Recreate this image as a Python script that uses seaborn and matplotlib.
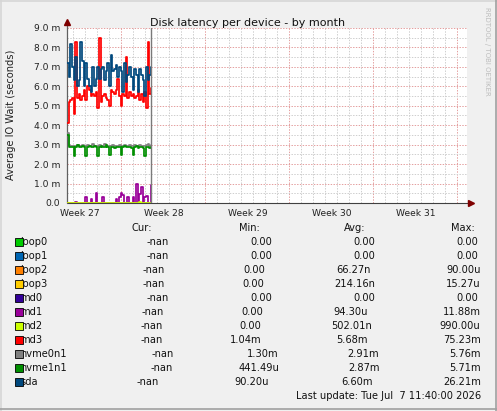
import numpy as np
import pandas as pd
import matplotlib
matplotlib.use("Agg")
import matplotlib.pyplot as plt
from matplotlib.patches import Rectangle
import seaborn as sns

W, H = 497, 411

# --- data ---
DEVICES = ["loop0", "loop1", "loop2", "loop3", "md0", "md1", "md2", "md3",
           "nvme0n1", "nvme1n1", "sda"]
COLORS = ["#00CC00", "#0066B3", "#FF8000", "#FFCC00", "#330099", "#990099",
          "#CCFF00", "#FF0000", "#808080", "#008F00", "#00487D"]

STEP_DAYS = 0.14  # spacing of the samples (days)
N_POINTS = 51

loop_zero = [0.0] * N_POINTS   # loop0..3, md0: flat at zero

md1 = [0, 0, 0, 0, 0, 0.05, 0, 0, 0, 0, 0, 0.3, 0, 0, 0.2, 0, 0, 0.5, 0, 0,
       0, 0.3, 0, 0, 0, 0, 0, 0, 0, 0.2, 0, 0.3, 0.5, 0.4, 0, 0, 0.3, 0, 0, 0.3,
       0, 1.0, 0, 0.45, 0.8, 0, 0.3, 0.35, 0, 0, 0.95]
md2 = [0, 0, 0, 0, 0, 0, 0, 0, 0, 0, 0, 0, 0, 0, 0, 0, 0, 0, 0, 0,
       0, 0, 0, 0, 0, 0, 0, 0, 0, 0, 0, 0, 0, 0, 0, 0, 0, 0, 0, 0,
       0, 0, 0, 0.05, 0, 0, 0, 0, 0, 0, 0]
md3 = [4.1, 5.2, 5.3, 5.4, 4.6, 8.3, 5.4, 5.6, 5.3, 5.5, 5.8, 5.3, 6.0, 5.8,
       5.5, 5.6, 5.5, 5.7, 4.9, 8.5, 5.2, 5.5, 5.6, 5.4, 5.3, 5.0, 5.8, 5.7,
       5.6, 5.8, 6.4, 5.5, 5.0, 5.6, 5.5, 7.5, 5.4, 5.7, 5.5, 5.6, 5.4, 5.5,
       5.8, 5.3, 5.6, 5.2, 5.7, 4.9, 8.3, 5.6, 5.9]
nvme0n1 = [3.6, 3.0, 2.95, 2.95, 2.95, 2.95, 3.0, 2.95, 2.95, 3.0,
           2.95, 2.95, 3.0, 2.95, 2.95, 3.05, 2.95, 2.95, 2.95, 3.0,
           2.95, 2.95, 3.05, 3.0, 2.95, 2.95, 2.95, 3.0, 2.95, 2.95,
           2.95, 3.0, 2.95, 2.95, 3.0, 2.95, 2.95, 3.0, 2.95, 2.95,
           3.0, 2.95, 2.95, 3.0, 2.95, 2.95, 2.95, 3.0, 3.05, 2.95, 3.0]
nvme1n1 = [3.5, 2.9, 2.9, 2.9, 2.4, 2.9, 3.0, 2.9, 2.9, 2.95, 2.9, 2.4, 2.9,
           2.95, 2.9, 2.9, 2.95, 2.9, 2.4, 2.9, 2.95, 2.9, 2.9, 3.0, 2.9, 2.45,
           2.9, 2.9, 2.85, 2.9, 2.9, 2.9, 2.45, 2.9, 2.95, 2.9, 2.9, 2.9, 2.85,
           2.45, 2.9, 2.95, 2.85, 2.9, 2.9, 2.85, 2.4, 2.9, 2.9, 2.85, 2.9]
sda = [7.2, 6.5, 8.2, 7.0, 6.3, 7.5, 6.0, 6.3, 8.3, 7.3, 6.0, 7.2, 6.4, 6.0,
       5.7, 7.0, 6.0, 6.4, 7.0, 6.4, 6.9, 7.0, 6.3, 6.8, 7.2, 6.0, 7.6, 6.8,
       6.9, 7.1, 6.5, 7.0, 6.8, 5.7, 7.2, 6.2, 6.6, 7.0, 6.5, 5.8, 6.9, 6.6,
       5.7, 6.9, 6.6, 6.3, 5.5, 7.0, 6.3, 6.6, 7.0]

SERIES = [loop_zero, loop_zero, loop_zero, loop_zero, loop_zero,
          md1, md2, md3, nvme0n1, nvme1n1, sda]

LEG_CUR = ["-nan"] * 11
LEG_MIN = ["0.00", "0.00", "0.00", "0.00", "0.00", "0.00", "0.00", "1.04m",
           "1.30m", "441.49u", "90.20u"]
LEG_AVG = ["0.00", "0.00", "66.27n", "214.16n", "0.00", "94.30u", "502.01n",
           "5.68m", "2.91m", "2.87m", "6.60m"]
LEG_MAX = ["0.00", "0.00", "90.00u", "15.27u", "0.00", "11.88m", "990.00u",
           "75.23m", "5.76m", "5.71m", "26.21m"]

WEEK_LABELS = ["Week 27", "Week 28", "Week 29", "Week 30", "Week 31"]
Y_LABELS = ["0.0", "1.0 m", "2.0 m", "3.0 m", "4.0 m", "5.0 m", "6.0 m",
            "7.0 m", "8.0 m", "9.0 m"]

# legend layout (pixel positions, right edges of each column)
CUR_X = [169, 169, 165, 164.3, 168.3, 163.3, 162.7, 162.3, 173.3, 172.3, 158.3]
MIN_X = [272.3, 272.3, 265.7, 264.3, 272.3, 263.3, 261.7, 261.7, 278.3, 279, 269.3]
AVG_X = [375, 375, 371, 375, 375, 368.3, 372.3, 367.7, 379, 380, 372.3]
MAX_X = [478.3, 478.3, 481, 480, 478.3, 481, 480, 481, 481, 481, 481]

# --- long table for seaborn ---
x_days = np.arange(N_POINTS) * STEP_DAYS
frames = []
for name, vals in zip(DEVICES, SERIES):
    frames.append(pd.DataFrame({"day": x_days, "wait": vals, "device": name}))
df = pd.concat(frames, ignore_index=True)

sns.set_style("white")
plt.rcParams["font.family"] = ["DejaVu Sans"]

fig = plt.figure(figsize=(W / 100, H / 100), dpi=100, facecolor="#F0F0F0")
ax = fig.add_axes([67 / W, 1 - 203 / H, 400 / W, 175 / H])
ax.set_facecolor("white")

X_MAX = 400 / 12.0
ax.set_xlim(0, X_MAX)
ax.set_ylim(0, 9)

# grid (rrdtool style dotted)
dots = (0, (1.4, 1.4))
for d in np.arange(0.5, X_MAX, 1.0):
    is_major = abs(((d - 4.5) % 7)) < 1e-6
    ax.axvline(d, color="#E4A0A0" if is_major else "#CFCFCF", lw=0.72,
               ls=dots, zorder=0.5)
for v in np.arange(0.5, 9.01, 0.5):
    is_major = abs(v - round(v)) < 1e-6
    ax.axhline(v, color="#E4A0A0" if is_major else "#CFCFCF", lw=0.72,
               ls=dots, zorder=0.5)

for s in ax.spines.values():
    s.set_visible(False)

# axes with arrows
ax.plot([0, 1 + 3 / 400], [0, 0], transform=ax.transAxes, color="#404040",
        lw=0.8, clip_on=False, zorder=1)
ax.plot([0, 0], [0, 1 + 5 / 175], transform=ax.transAxes, color="#606060",
        lw=0.9, clip_on=False, zorder=1)
ax.plot([1 + 4 / 400], [0], marker=">", ms=4, color="#7F0000",
        transform=ax.transAxes, clip_on=False, zorder=5)
ax.plot([0], [1 + 6 / 175], marker="^", ms=4, color="#7F0000",
        transform=ax.transAxes, clip_on=False, zorder=5)

sns.lineplot(data=df, x="day", y="wait", hue="device", hue_order=DEVICES,
             palette=COLORS, drawstyle="steps-post", estimator=None,
             errorbar=None, lw=1.25, legend=False, ax=ax, zorder=3)

ax.axvline(7.0, color="#7A7A7A", lw=1.0, zorder=4)

ax.set_yticks(range(10))
ax.set_yticklabels(Y_LABELS)
ax.set_xticks([1.1 + 7 * k for k in range(len(WEEK_LABELS))])
ax.set_xticklabels(WEEK_LABELS)
ax.tick_params(axis="y", length=1.5, color="#808080", pad=3.5, labelsize=6.6,
               labelcolor="#222222")
ax.tick_params(axis="x", length=0, pad=4, labelsize=6.6, labelcolor="#222222")
ax.set_xlabel("")
ax.set_ylabel("")

# overlay in pixel coordinates for titles, legend and frame
ov = fig.add_axes([0, 0, 1, 1], zorder=10)
ov.set_xlim(0, W)
ov.set_ylim(H, 0)
ov.axis("off")

ov.text(248, 25.5, "Disk latency per device - by month", ha="center",
        va="baseline", fontsize=8.0, color="#111111")
ov.text(11, 115, "Average IO Wait (seconds)", rotation=90, ha="center",
        va="center", fontsize=7.1, color="#222222")
ov.text(487, 51, "RRDTOOL / TOBI OETIKER", rotation=270, ha="center",
        va="center", fontsize=5.0, color="#BDBDBD")

txt = dict(fontsize=7.1, color="#111111", va="center")
header_y = 227.7
ov.text(151.7, header_y, "Cur:", ha="right", **txt)
ov.text(259.3, header_y, "Min:", ha="right", **txt)
ov.text(365, header_y, "Avg:", ha="right", **txt)
ov.text(475, header_y, "Max:", ha="right", **txt)

for i, name in enumerate(DEVICES):
    y = 242.3 + 14 * i
    ov.text(20.5, y, name, ha="left", zorder=1, **txt)
    ov.add_patch(Rectangle((15, y - 4), 8, 8, facecolor=COLORS[i],
                           edgecolor="black", lw=0.6, zorder=2))
    ov.text(CUR_X[i], y, LEG_CUR[i], ha="right", **txt)
    ov.text(MIN_X[i], y, LEG_MIN[i], ha="right", **txt)
    ov.text(AVG_X[i], y, LEG_AVG[i], ha="right", **txt)
    ov.text(MAX_X[i], y, LEG_MAX[i], ha="right", **txt)

ov.text(481, 395.7, "Last update: Tue Jul  7 11:40:00 2026", ha="right", **txt)

# 3d-ish frame
ov.plot([0, W], [0.8, 0.8], color="#D6D6D6", lw=1.2)
ov.plot([0.8, 0.8], [0, H], color="#D6D6D6", lw=1.2)
ov.plot([0, W], [408.6, 408.6], color="#A0A0A0", lw=1.2)
ov.plot([495.8, 495.8], [0, H], color="#A0A0A0", lw=1.2)

fig.savefig("out.png", dpi=100, facecolor=fig.get_facecolor())
